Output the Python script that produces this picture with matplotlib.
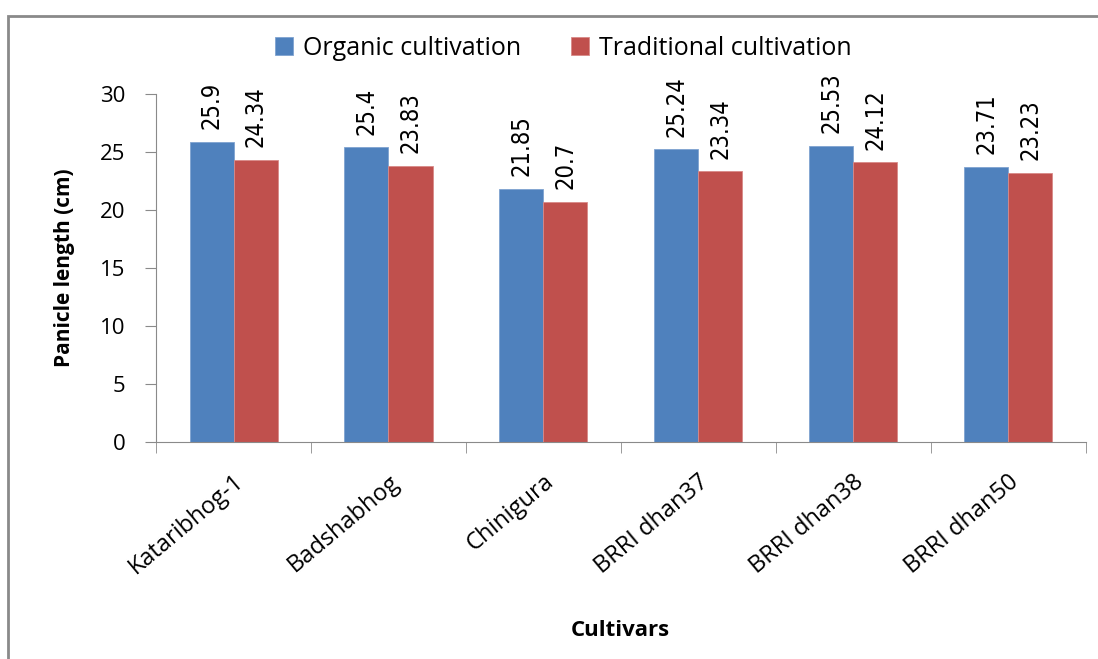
import matplotlib.pyplot as plt
import numpy as np
from matplotlib.patches import Rectangle

cultivars = ["Kataribhog-1", "Badshabhog", "Chinigura", "BRRI dhan37", "BRRI dhan38", "BRRI dhan50"]
organic = [25.9, 25.4, 21.85, 25.24, 25.53, 23.71]
traditional = [24.34, 23.83, 20.7, 23.34, 24.12, 23.23]
organic_lbl = ["25.9", "25.4", "21.85", "25.24", "25.53", "23.71"]
traditional_lbl = ["24.34", "23.83", "20.7", "23.34", "24.12", "23.23"]

plt.rcParams['font.family'] = ['Open Sans', 'DejaVu Sans']

fig = plt.figure(figsize=(10.98, 6.59), dpi=100)
ax = fig.add_axes([0.1421, 0.3293, 0.8469, 0.5281])

# рамка вокруг графика
fig.patches.append(Rectangle((0.0073, -0.1), 1.2, 0.1 + 0.9757, transform=fig.transFigure,
                             fill=False, edgecolor="#8a8a8a", linewidth=2))

x = np.arange(len(cultivars))
w = 0.284
b1 = ax.bar(x - w / 2, organic, w, color="#4f81bd", edgecolor="#7fa3d0", linewidth=0.6, label="Organic cultivation")
b2 = ax.bar(x + w / 2, traditional, w, color="#c0504d", edgecolor="#d88a88", linewidth=0.6, label="Traditional cultivation")

for bars, lbls in ((b1, organic_lbl), (b2, traditional_lbl)):
    for bar, t in zip(bars, lbls):
        ax.annotate(t, (bar.get_x() + bar.get_width() / 2, bar.get_height()),
                    xytext=(0, 9), textcoords="offset points", rotation=90,
                    ha="center", va="bottom", fontsize=17,
                    family=['DejaVu Sans'], fontstretch="condensed")

ax.set_xlim(-0.5, len(cultivars) - 0.5)
ax.set_ylim(0, 30)
ax.set_yticks(range(0, 31, 5))
ax.set_xticks(x)
ax.set_xticklabels(cultivars, rotation=40, ha="right", rotation_mode="anchor", fontsize=17)
ax.set_xticks(np.arange(-0.5, len(cultivars)), minor=True)
ax.tick_params(axis="x", which="major", length=0, pad=20)
ax.tick_params(axis="x", which="minor", length=8, color="#8a8a8a")
ax.tick_params(axis="y", length=8, color="#8a8a8a", labelsize=16, pad=14)

for s in ("top", "right"):
    ax.spines[s].set_visible(False)
for s in ("left", "bottom"):
    ax.spines[s].set_color("#8a8a8a")

ax.set_ylabel("Panicle length (cm)", fontsize=15, fontweight="bold", labelpad=18)
fig.text(0.565, 0.043, "Cultivars", fontsize=16, fontweight="bold", ha="center", va="center")

fig.legend(loc="center", bbox_to_anchor=(0.513, 0.927), ncol=2, frameon=False,
           fontsize=18, handlelength=0.7, handleheight=0.7, columnspacing=2.0, handletextpad=0.4)

plt.savefig("out.png")
